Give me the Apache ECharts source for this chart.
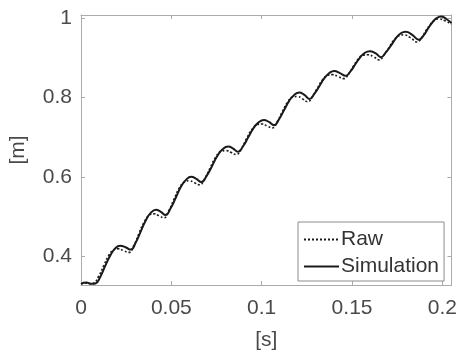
<!DOCTYPE html>
<html>
<head>
<meta charset="utf-8">
<script src="https://cdn.jsdelivr.net/npm/echarts@6/dist/echarts.min.js"></script>
<style>
  html, body { margin: 0; padding: 0; background: #fff; }
  #chart { width: 460px; height: 356px; }
</style>
</head>
<body>
<div id="chart"></div>
<script>
// 时间轴 [s]
const simT = [
  0.000, 0.003, 0.0055, 0.008,
  0.0107, 0.0134, 0.0162, 0.0189, 0.0216, 0.0246, 0.0275,
  0.0303, 0.0331, 0.0359, 0.0387, 0.0415, 0.0442, 0.0468,
  0.0496, 0.0525, 0.0553, 0.0582, 0.0610, 0.0638, 0.0666,
  0.0696, 0.0726, 0.0755, 0.0785, 0.0815, 0.0842, 0.0868,
  0.0897, 0.0926, 0.0954, 0.0983, 0.1012, 0.1040, 0.1068,
  0.1096, 0.1124, 0.1152, 0.1180, 0.1208, 0.1236, 0.1264,
  0.1292, 0.1319, 0.1347, 0.1374, 0.1402, 0.1433, 0.1464,
  0.1491, 0.1518, 0.1544, 0.1571, 0.1598, 0.1629, 0.1660,
  0.1687, 0.1715, 0.1742, 0.1770, 0.1797, 0.1833, 0.1870,
  0.1895, 0.1919, 0.1944, 0.1968, 0.1993, 0.2022, 0.2050
]
// 仿真 [m]
const simY = [
  0.331, 0.334, 0.331, 0.332,
  0.349, 0.376, 0.402, 0.420, 0.427, 0.423, 0.417,
  0.435, 0.463, 0.491, 0.510, 0.517, 0.512, 0.504,
  0.521, 0.548, 0.575, 0.593, 0.600, 0.595, 0.587,
  0.603, 0.628, 0.653, 0.670, 0.676, 0.671, 0.663,
  0.677, 0.700, 0.722, 0.737, 0.743, 0.738, 0.730,
  0.745, 0.768, 0.791, 0.806, 0.812, 0.806, 0.796,
  0.809, 0.828, 0.848, 0.861, 0.866, 0.861, 0.854,
  0.865, 0.883, 0.900, 0.912, 0.916, 0.911, 0.901,
  0.913, 0.930, 0.948, 0.961, 0.965, 0.957, 0.945,
  0.955, 0.972, 0.988, 0.999, 1.003, 0.997, 0.987
]
const rawT = [
  0.000, 0.003, 0.0055, 0.0072,
  0.0098, 0.0126, 0.0153, 0.0180, 0.0206, 0.0237, 0.0265,
  0.0293, 0.0321, 0.0349, 0.0377, 0.0405, 0.0432, 0.0458,
  0.0486, 0.0515, 0.0543, 0.0572, 0.0600, 0.0628, 0.0656,
  0.0686, 0.0716, 0.0745, 0.0775, 0.0805, 0.0832, 0.0858,
  0.0887, 0.0916, 0.0944, 0.0973, 0.1002, 0.1030, 0.1058,
  0.1086, 0.1114, 0.1142, 0.1170, 0.1198, 0.1226, 0.1254,
  0.1282, 0.1309, 0.1337, 0.1364, 0.1392, 0.1423, 0.1454,
  0.1481, 0.1508, 0.1534, 0.1561, 0.1588, 0.1619, 0.1650,
  0.1677, 0.1705, 0.1732, 0.1760, 0.1787, 0.1823, 0.1860,
  0.1885, 0.1909, 0.1934, 0.1958, 0.1983, 0.2012, 0.2050
]
// 原始数据 [m]
const rawY = [
  0.331, 0.333, 0.331, 0.333,
  0.350, 0.377, 0.402, 0.416, 0.419, 0.414, 0.410,
  0.428, 0.458, 0.486, 0.503, 0.507, 0.502, 0.497,
  0.515, 0.544, 0.571, 0.587, 0.590, 0.585, 0.580,
  0.597, 0.624, 0.649, 0.664, 0.666, 0.661, 0.656,
  0.671, 0.696, 0.718, 0.731, 0.733, 0.728, 0.723,
  0.739, 0.764, 0.787, 0.800, 0.802, 0.796, 0.789,
  0.803, 0.824, 0.844, 0.855, 0.857, 0.852, 0.847,
  0.859, 0.879, 0.896, 0.906, 0.907, 0.902, 0.894,
  0.907, 0.926, 0.944, 0.955, 0.957, 0.950, 0.939,
  0.950, 0.968, 0.984, 0.994, 0.997, 0.993, 0.984
]
const xTicks = [0, 0.05, 0.1, 0.15, 0.2]
const yTicks = [0.4, 0.6, 0.8, 1]

const zip = (ts, ys) => ts.map((t, i) => [t, ys[i]])

const font = 'Liberation Sans, Arial, sans-serif'
const axisColor = '#ababab'
const textColor = '#4a4a4a'

let myChart = echarts.init(document.getElementById('chart'))

// 四周边框 + 内向刻度
const xBase = {
  type: 'value', min: 0, max: 0.205,
  axisLine: { show: true, onZero: false, lineStyle: { color: axisColor, width: 1 } },
  axisTick: { show: true, inside: true, length: 4, customValues: xTicks, lineStyle: { color: axisColor } },
  splitLine: { show: false }
}
const yBase = {
  type: 'value', min: 0.328, max: 1.007,
  axisLine: { show: true, onZero: false, lineStyle: { color: axisColor, width: 1 } },
  axisTick: { show: true, inside: true, length: 4, customValues: yTicks, lineStyle: { color: axisColor } },
  splitLine: { show: false }
}

myChart.setOption({
  animation: false,
  backgroundColor: '#ffffff',
  grid: { left: 81, right: 8, top: 15, bottom: 68 },
  legend: {
    data: ['Raw', 'Simulation'],
    orient: 'vertical',
    left: 298,
    top: 222,
    padding: [7, 5, 4, 5],
    itemGap: 6,
    itemWidth: 35,
    itemHeight: 14,
    borderColor: '#8c8c8c',
    borderWidth: 1,
    backgroundColor: '#ffffff',
    itemStyle: { opacity: 0 }, // 图例只画线
    textStyle: { fontFamily: font, fontSize: 21, color: '#333', padding: [0, 0, 0, -3] }
  },
  xAxis: [
    Object.assign({}, xBase, {
      position: 'bottom',
      name: '[s]',
      nameLocation: 'middle',
      nameGap: 45,
      nameTextStyle: { fontFamily: font, fontSize: 21, color: textColor },
      axisLabel: { customValues: xTicks, margin: 13, fontFamily: font, fontSize: 21, color: textColor }
    }),
    Object.assign({}, xBase, { position: 'top', axisLabel: { show: false } })
  ],
  yAxis: [
    Object.assign({}, yBase, {
      position: 'left',
      name: '[m]',
      nameLocation: 'middle',
      nameGap: 52,
      nameTextStyle: { fontFamily: font, fontSize: 21, color: textColor },
      axisLabel: { customValues: yTicks, margin: 9, fontFamily: font, fontSize: 21, color: textColor }
    }),
    Object.assign({}, yBase, { position: 'right', axisLabel: { show: false } })
  ],
  series: [
    {
      name: 'Raw',
      type: 'line',
      data: zip(rawT, rawY),
      symbol: 'none',
      smooth: 0.5,
      lineStyle: { color: '#1a1a1a', width: 1.6, type: [2, 2] },
      itemStyle: { color: '#1a1a1a' }
    },
    {
      name: 'Simulation',
      type: 'line',
      data: zip(simT, simY),
      symbol: 'none',
      smooth: 0.5,
      lineStyle: { color: '#1a1a1a', width: 2 },
      itemStyle: { color: '#1a1a1a' }
    }
  ]
})
</script>
</body>
</html>
